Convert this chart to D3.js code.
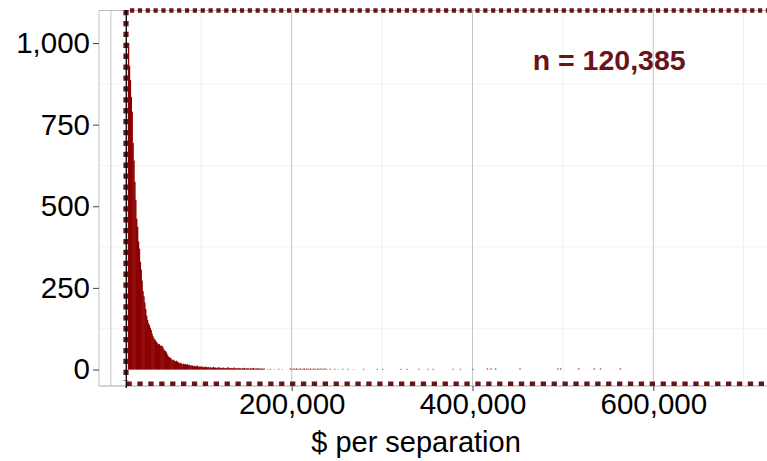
<!DOCTYPE html>
<html>
<head>
<meta charset="utf-8">
<script src="https://cdn.jsdelivr.net/npm/d3@7"></script>
<style>
  html, body { margin: 0; padding: 0; background: #ffffff; }
  svg { display: block; }
  text { font-family: "Liberation Sans", Arial, Helvetica, sans-serif; }
</style>
</head>
<body>
<svg id="chart" width="767" height="461"></svg>
<script>
// Histogram of dollars per separation, $1,000 bins starting at $19,000
const binStart = 19000;
const binWidth = 1000;
const binCounts = [
  1000, 930, 887, 835, 790, 694, 640, 575, 520, 462,
  437, 392, 370, 330, 306, 272, 240, 224, 205, 185,
  165, 152, 142, 136, 128, 121, 110, 102, 96, 92,
  88, 84, 80, 76, 78, 72, 74, 72, 68, 62,
  58, 56, 52, 45, 40, 38, 36, 34, 30, 28,
  30, 26, 24, 27, 24, 22, 20, 18, 21, 17,
  16, 18, 15, 17, 14, 16, 13, 15, 12, 13,
  11, 12, 10, 11, 9, 10, 12, 9, 8, 10,
  8, 9, 7, 8, 6, 9, 7, 6, 8, 5,
  7, 6, 5, 6, 8, 5, 6, 4, 5, 7,
  5, 6, 4, 5, 3, 6, 4, 3, 5, 4,
  7, 3, 4, 5, 3, 4, 3, 6, 3, 4,
  2, 5, 3, 4, 3, 2, 4, 3, 5, 3,
  2, 4, 3, 3, 2, 4, 2, 3, 5, 2,
  3, 2, 3, 4, 2, 3, 2, 3, 2, 2, 3
];

// Sparse upper tail: [bin start in $, count]
const tailBins = [
  [173000, 1], [176000, 2], [180000, 1], [185000, 2], [189000, 1],
  [198000, 3], [200000, 2], [202000, 3], [204000, 2], [205000, 3], [207000, 2],
  [209000, 3], [211000, 2], [213000, 3], [214000, 2], [216000, 3], [218000, 2],
  [220000, 3], [222000, 2], [224000, 3], [226000, 2], [228000, 3], [230000, 2],
  [232000, 3], [234000, 2], [236000, 3], [238000, 2],
  [242000, 2], [247000, 2], [251000, 1], [256000, 2], [262000, 2], [268000, 1],
  [279000, 2], [294000, 2], [300000, 2], [320000, 2], [327000, 2], [340000, 2],
  [350000, 2], [356000, 2], [378000, 2], [386000, 2], [400000, 2], [416000, 3],
  [420000, 3], [425000, 3], [452000, 3], [494000, 3], [497000, 3], [517000, 3],
  [534000, 3], [541000, 3], [563000, 3]
];

const xTickValues = [200000, 400000, 600000];
const xMajorGrid = [0, 200000, 400000, 600000];
const xMinorGrid = [-100000, 100000, 300000, 500000, 700000];
const yTickValues = [0, 250, 500, 750, 1000];
const yMinorGrid = [125, 375, 625, 875];
const thresholdValue = 17000;
const sampleLabel = "n = 120,385";
const xTitle = "$ per separation";

const bins = binCounts.map((c, i) => ({ x0: binStart + i * binWidth, count: c }))
  .concat(tailBins.map(([x0, c]) => ({ x0, count: c })));

const svg = d3.select("#chart");
const panel = { left: 99, top: 10.5, right: 767, bottom: 386 };

const x = d3.scaleLinear().domain([0, 600000]).range([110.9, 653.3]);
const y = d3.scaleLinear().domain([0, 1000]).range([369.5, 43]);

svg.append("defs").append("clipPath").attr("id", "panelClip")
  .append("rect")
  .attr("x", panel.left).attr("y", panel.top)
  .attr("width", panel.right - panel.left).attr("height", panel.bottom - panel.top);

const plot = svg.append("g").attr("clip-path", "url(#panelClip)");

// grid
plot.selectAll("line.ygrid-minor").data(yMinorGrid).join("line")
  .attr("x1", panel.left).attr("x2", panel.right)
  .attr("y1", d => y(d)).attr("y2", d => y(d))
  .attr("stroke", "#f3f3f3").attr("stroke-width", 1);

plot.selectAll("line.xgrid-minor").data(xMinorGrid).join("line")
  .attr("x1", d => x(d)).attr("x2", d => x(d))
  .attr("y1", panel.top).attr("y2", panel.bottom)
  .attr("stroke", "#eeeeee").attr("stroke-width", 1);

plot.selectAll("line.xgrid-major").data(xMajorGrid).join("line")
  .attr("x1", d => x(d)).attr("x2", d => x(d))
  .attr("y1", panel.top).attr("y2", panel.bottom)
  .attr("stroke", "#c6c6c6").attr("stroke-width", 1);

// bars (slightly widened so neighbouring bins join without seams)
const barW = x(binWidth) - x(0);
plot.selectAll("rect.bar").data(bins).join("rect")
  .attr("class", "bar")
  .attr("x", d => x(d.x0) - 0.2)
  .attr("width", barW + 0.5)
  .attr("y", d => y(d.count))
  .attr("height", d => y(0) - y(d.count))
  .attr("fill", "#8b0000");

// panel border (left, top, bottom)
svg.append("line").attr("x1", panel.left).attr("x2", panel.left)
  .attr("y1", panel.top).attr("y2", panel.bottom)
  .attr("stroke", "#c4c4c4").attr("stroke-width", 1);
svg.append("line").attr("x1", panel.left).attr("x2", panel.right)
  .attr("y1", panel.top).attr("y2", panel.top)
  .attr("stroke", "#bdbdbd").attr("stroke-width", 1);
svg.append("line").attr("x1", panel.left).attr("x2", panel.right)
  .attr("y1", panel.bottom).attr("y2", panel.bottom)
  .attr("stroke", "#a8a8a8").attr("stroke-width", 1);

// dotted frame around the body of the distribution
const frameColor = "#6b1316";
const frameLeft = 126;
const frameTop = 10.5;
const frameBottom = 383.8;
svg.append("line")
  .attr("x1", 130).attr("x2", 780)
  .attr("y1", frameTop).attr("y2", frameTop)
  .attr("stroke", frameColor).attr("stroke-width", 4.4)
  .attr("stroke-dasharray", "4.2,3.65");
svg.append("line")
  .attr("x1", frameLeft).attr("x2", frameLeft)
  .attr("y1", 10).attr("y2", 381)
  .attr("stroke", frameColor).attr("stroke-width", 5.2)
  .attr("stroke-dasharray", "5.3,5.6");
svg.append("line")
  .attr("x1", 126.5).attr("x2", 780)
  .attr("y1", frameBottom).attr("y2", frameBottom)
  .attr("stroke", frameColor).attr("stroke-width", 4.4)
  .attr("stroke-dasharray", "5.3,5.6");

// threshold marker
svg.append("line")
  .attr("x1", x(thresholdValue)).attr("x2", x(thresholdValue))
  .attr("y1", 10).attr("y2", 388)
  .attr("stroke", "#000000").attr("stroke-width", 1.3);

// axes
const yAxis = d3.axisLeft(y).tickValues(yTickValues).tickFormat(d3.format(","))
  .tickSize(6).tickPadding(3);
const gy = svg.append("g").attr("transform", `translate(${panel.left},0)`).call(yAxis);
gy.select(".domain").remove();
gy.selectAll(".tick line").attr("stroke", "#444444");
gy.selectAll(".tick text").attr("font-size", 29.5).attr("fill", "#000000")
  .style("font-family", "'Liberation Sans', Arial, sans-serif");

const xAxis = d3.axisBottom(x).tickValues(xTickValues).tickFormat(d3.format(","))
  .tickSize(5).tickPadding(2);
const gx = svg.append("g").attr("transform", `translate(0,${panel.bottom})`).call(xAxis);
gx.select(".domain").remove();
gx.selectAll(".tick line").attr("stroke", "#444444");
gx.selectAll(".tick text").attr("font-size", 29.5).attr("fill", "#000000")
  .style("font-family", "'Liberation Sans', Arial, sans-serif");

// axis title
svg.append("text")
  .attr("x", 416).attr("y", 452)
  .attr("text-anchor", "middle")
  .attr("font-size", 29)
  .attr("fill", "#000000")
  .text(xTitle);

// sample size
svg.append("text")
  .attr("x", 532.7).attr("y", 70)
  .attr("font-size", 28.5)
  .attr("font-weight", "bold")
  .attr("fill", "#6b1418")
  .text(sampleLabel);
</script>
</body>
</html>
